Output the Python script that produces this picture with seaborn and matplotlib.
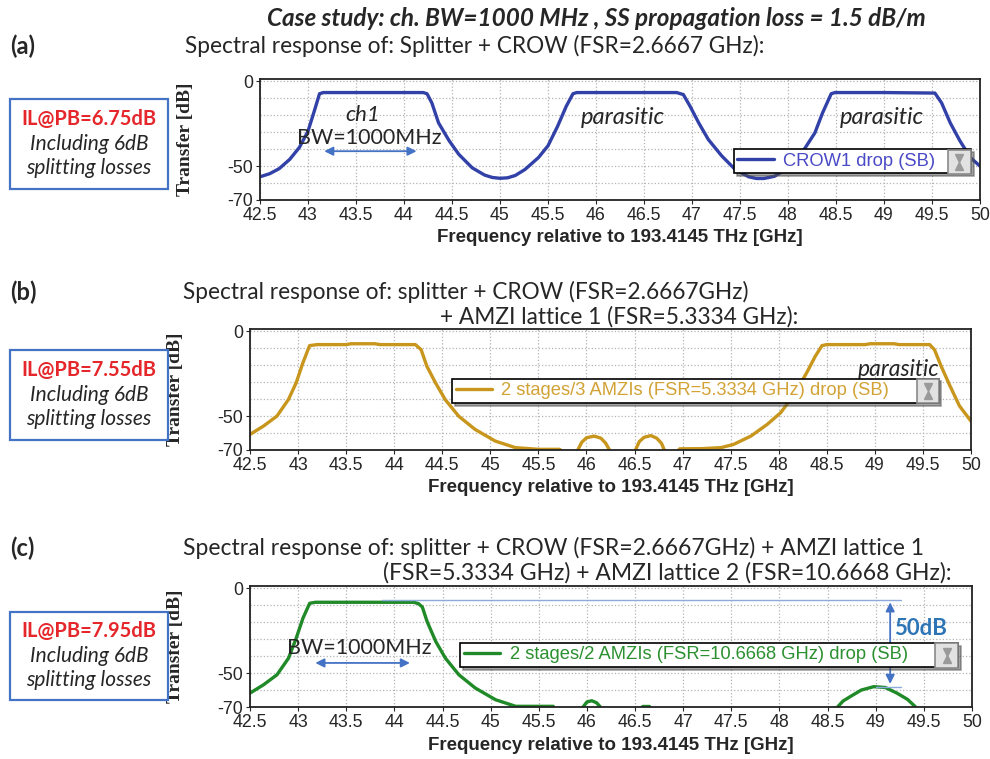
import pandas as pd
import matplotlib
matplotlib.use('Agg')
import matplotlib.pyplot as plt
import seaborn as sns
from matplotlib.patches import Rectangle
from matplotlib.ticker import FixedLocator

sns.set_style('ticks')
plt.rcParams['font.family'] = ['Liberation Sans', 'DejaVu Sans']
plt.rcParams['axes.unicode_minus'] = False

# ---- data ----
freq_a = [42.5, 42.6, 42.7, 42.81, 42.91, 43.0, 43.07, 43.12, 43.16, 43.6,
          44.2, 44.24, 44.29, 44.36, 44.47, 44.57, 44.71, 44.84, 44.92, 45.0,
          45.08, 45.16, 45.26, 45.4, 45.5, 45.6, 45.69, 45.76, 45.8, 46.3,
          46.84, 46.91, 46.98, 47.07, 47.17, 47.31, 47.45, 47.59, 47.67, 47.75,
          47.86, 48.03, 48.17, 48.28, 48.36, 48.45, 48.49, 49.0, 49.53, 49.6,
          49.69, 49.79, 49.9, 50.0]
trans_a = [-56.3, -54.5, -51.5, -46, -39, -29.4, -16.7, -7.3, -6.6, -6.6,
           -6.6, -7.3, -12.7, -24.5, -35, -43, -51, -55.3, -56.7, -57.2,
           -56.9, -55.5, -52, -45, -38, -26.5, -14.7, -7.3, -6.6, -6.6,
           -6.6, -7.8, -14.7, -24.5, -34.3, -44, -52, -56.3, -57.3, -57.3,
           -56, -50, -40, -30.4, -18.6, -7.3, -6.6, -6.6, -6.9, -12.7,
           -24.5, -35, -45, -50]

freq_b = [42.5, 42.64, 42.78, 42.9, 42.98, 43.05, 43.12, 43.2, 43.5, 43.55,
          43.8, 43.85, 44.22, 44.28, 44.34, 44.43, 44.53, 44.67, 44.84, 45.05,
          45.26, 45.5, 45.72, 45.78, 45.84, 45.91, 45.95, 46.0, 46.08, 46.15,
          46.2, 46.24, 46.3, 46.45, 46.51, 46.55, 46.6, 46.67, 46.73, 46.78,
          46.81, 46.88, 46.97, 47.2, 47.4, 47.53, 47.71, 47.88, 48.02, 48.16,
          48.29, 48.38, 48.45, 48.5, 48.9, 48.95, 49.2, 49.25, 49.57, 49.62,
          49.69, 49.78, 49.88, 50.0]
trans_b = [-60.8, -55.9, -50, -40.2, -30.4, -18.6, -8.4, -7.8, -7.8, -7.3,
           -7.3, -7.8, -7.8, -10.8, -20.6, -30.4, -40.2, -50, -57.8, -64.7,
           -68.6, -69.6, -69.6, -72, -75, -70, -65.5, -62.8, -61.8, -63,
           -66, -70, -76, -76, -70, -65, -62.5, -61.5, -63, -66,
           -70, -75, -69.3, -69.2, -68.6, -66.7, -61.8, -54.9, -48, -37.3,
           -24.5, -14.7, -8.4, -7.8, -7.8, -7.3, -7.3, -7.8, -7.8, -10.8,
           -20.6, -32, -44, -53]

freq_c = [42.5, 42.64, 42.78, 42.9, 42.98, 43.05, 43.12, 43.18, 44.2, 44.25,
          44.29, 44.34, 44.43, 44.53, 44.67, 44.84, 45.05, 45.26, 45.45, 45.65,
          45.7, 45.85, 45.96, 46.0, 46.05, 46.1, 46.14, 46.2, 46.5, 46.58,
          46.65, 46.7, 47.5, 48.3, 48.6, 48.66, 48.74, 48.85, 48.98, 49.1,
          49.22, 49.33, 49.42, 49.6, 50.0]
trans_c = [-61.8, -56.9, -51, -41.2, -29.4, -17.6, -8.8, -8.2, -8.2, -9.0,
           -11, -19.6, -31.4, -41.2, -51, -58.8, -65.7, -69.6, -69.6, -69.6,
           -75, -78, -70, -67, -66.3, -67.5, -70, -80, -75, -69.7,
           -69.7, -75, -85, -78, -70.2, -66.5, -63.7, -60, -58, -58.5,
           -61.8, -65.5, -70.3, -80, -85]

x_ticks = [42.5, 43, 43.5, 44, 44.5, 45, 45.5, 46, 46.5, 47, 47.5, 48, 48.5, 49, 49.5, 50]
x_tick_labels = ['42.5', '43', '43.5', '44', '44.5', '45', '45.5', '46', '46.5',
                 '47', '47.5', '48', '48.5', '49', '49.5', '50']
y_ticks = [0, -50, -70]
y_grid = [-10, -20, -30, -40, -60]

labels = ['CROW1 drop (SB)',
          '2 stages/3 AMZIs (FSR=5.3334 GHz) drop (SB)',
          '2 stages/2 AMZIs (FSR=10.6668 GHz) drop (SB)']
il_values = ['IL@PB=6.75dB', 'IL@PB=7.55dB', 'IL@PB=7.95dB']
passband_top = -6.6
parasitic_peak = -58.0

W, H = 990, 759
fig = plt.figure(figsize=(9.9, 7.59), dpi=100)


def fx(px):
    return px / W


def fy(py):
    return 1 - py / H


def add_panel(rect, freq, trans, color, tcolor, label, leg_box, icon_box):
    l, t, r, b = rect
    ax = fig.add_axes([fx(l), fy(b), (r - l) / W, (b - t) / H])
    df = pd.DataFrame({'freq': freq, 'trans': trans})
    sns.lineplot(data=df, x='freq', y='trans', ax=ax, color=color, lw=2.4,
                 label=label, estimator=None, sort=False)
    ax.set_xlim(42.5, 50)
    ax.set_ylim(-70, 1.4)
    ax.set_xticks(x_ticks)
    ax.set_xticklabels(x_tick_labels)
    ax.set_yticks(y_ticks)
    ax.yaxis.set_minor_locator(FixedLocator(y_grid))
    ax.grid(which='both', color='#b4b4b4', ls=':', lw=0.9)
    ax.set_axisbelow(True)
    ax.tick_params(which='major', labelsize=12.8, length=3, width=0.8, pad=2)
    ax.tick_params(which='minor', length=0)
    for s in ax.spines.values():
        s.set_color('#222222')
        s.set_linewidth(1.3)
    ax.set_xlabel('Frequency relative to 193.4145 THz [GHz]', fontweight='bold',
                  fontsize=13.5, labelpad=4)
    ax.set_ylabel('Transfer [dB]', family='Liberation Serif', fontweight='bold', fontsize=14)
    ax.yaxis.set_label_coords(-0.092, 0.5)
    leg = ax.legend(loc='center left', bbox_to_anchor=leg_box, mode='expand', frameon=True,
                    fancybox=False, shadow=True, edgecolor='black', framealpha=1,
                    fontsize=13.2, labelcolor=tcolor, handlelength=2.0,
                    borderpad=0.2, borderaxespad=0, handletextpad=0.5)
    leg.get_frame().set_linewidth(1.2)
    ix, iy, iw, ih = icon_box
    ax.add_patch(Rectangle((ix, iy), iw, ih, transform=ax.transAxes, facecolor='#e2e2e2',
                           edgecolor='#8a8a8a', lw=1.2, zorder=7, clip_on=False))
    ax.plot([ix + iw / 2], [iy + ih * 0.66], transform=ax.transAxes, marker='v', ms=6,
            color='#9a9a9a', zorder=8, clip_on=False)
    ax.plot([ix + iw / 2], [iy + ih * 0.34], transform=ax.transAxes, marker='^', ms=6,
            color='#9a9a9a', zorder=8, clip_on=False)
    return ax


ax_a = add_panel((260, 79, 980, 200), freq_a, trans_a, '#3241a8', '#4a4ac6', labels[0],
                 (0.658, 0.22, 0.33, 0.2), (0.955, 0.215, 0.032, 0.2))
ax_b = add_panel((250, 329, 971, 450), freq_b, trans_b, '#c8961c', '#d2a235', labels[1],
                 (0.28, 0.395, 0.675, 0.19), (0.925, 0.39, 0.03, 0.2))
ax_c = add_panel((250, 586, 972, 707), freq_c, trans_c, '#1f8a27', '#2b9030', labels[2],
                 (0.291, 0.33, 0.69, 0.2), (0.949, 0.325, 0.032, 0.2))

arrow_kw = dict(arrowstyle='<|-|>', color='#4472c4', lw=1.3, mutation_scale=13)
calibri = ['Lato', 'DejaVu Sans']

# panel (a) annotations
ax_a.text(43.57, -19.6, 'ch1', family=calibri, style='italic', fontsize=16, ha='center', va='center')
ax_a.text(43.64, -33.3, 'BW=1000MHz', family=calibri, fontsize=15.5, ha='center', va='center')
ax_a.annotate('', xy=(43.14, -41.2), xytext=(44.16, -41.2), arrowprops=arrow_kw)
ax_a.text(46.28, -21.3, 'parasitic', family=calibri, style='italic', fontsize=17, ha='center', va='center')
ax_a.text(48.98, -21.3, 'parasitic', family=calibri, style='italic', fontsize=17, ha='center', va='center')

# panel (b)
ax_b.text(49.25, -22.5, 'parasitic', family=calibri, style='italic', fontsize=16.5, ha='center', va='center')

# panel (c)
ax_c.text(43.64, -35.3, 'BW=1000MHz', family=calibri, fontsize=15.5, ha='center', va='center')
ax_c.annotate('', xy=(43.15, -44), xytext=(44.19, -44), arrowprops=arrow_kw)
ax_c.plot([43.87, 49.26], [passband_top, passband_top], color='#8ea9db', lw=1.0, zorder=4)
ax_c.plot([49.0, 49.26], [parasitic_peak, parasitic_peak], color='#8ea9db', lw=1.0, zorder=4)
ax_c.annotate('', xy=(49.15, passband_top), xytext=(49.15, parasitic_peak), arrowprops=arrow_kw)
ax_c.text(49.19, -23.5, '50dB', family=calibri, fontweight='bold', color='#2e75b6',
          fontsize=16, ha='left', va='center')

# figure-level texts
fig.text(fx(596), fy(18), 'Case study: ch. BW=1000 MHz , SS propagation loss = 1.5 dB/m',
         family=calibri, fontweight='bold', style='italic', fontsize=17.5, ha='center', va='center')
for lab, py in [('(a)', 46), ('(b)', 292), ('(c)', 548)]:
    fig.text(fx(10), fy(py), lab, family=calibri, fontweight='bold', fontsize=17, ha='left', va='center')

fig.text(fx(185), fy(46), 'Spectral response of: Splitter + CROW (FSR=2.6667 GHz):',
         family=calibri, fontsize=16.3, ha='left', va='center')
fig.text(fx(183), fy(292), 'Spectral response of: splitter + CROW (FSR=2.6667GHz)',
         family=calibri, fontsize=16.3, ha='left', va='center')
fig.text(fx(440), fy(317), '+ AMZI lattice 1 (FSR=5.3334 GHz):',
         family=calibri, fontsize=16.3, ha='left', va='center')
fig.text(fx(183), fy(548), 'Spectral response of: splitter + CROW (FSR=2.6667GHz) + AMZI lattice 1',
         family=calibri, fontsize=16.5, ha='left', va='center')
fig.text(fx(383), fy(573), '(FSR=5.3334 GHz) + AMZI lattice 2 (FSR=10.6668 GHz):',
         family=calibri, fontsize=16.5, ha='left', va='center')

# IL boxes
for il, (top, bot) in zip(il_values, [(99, 189), (350, 440), (612, 700)]):
    fig.patches.append(Rectangle((fx(10), fy(bot)), (168 - 10) / W, (bot - top) / H,
                                 transform=fig.transFigure, facecolor='white',
                                 edgecolor='#4472c4', lw=1.6))
    mid = (top + bot) / 2
    fig.text(fx(89), fy(mid - 25), il, family=calibri, fontweight='bold', color='#e5262b',
             fontsize=14.5, ha='center', va='center')
    fig.text(fx(89), fy(mid), 'Including 6dB', family=calibri, style='italic',
             fontsize=15, ha='center', va='center')
    fig.text(fx(89), fy(mid + 24), 'splitting losses', family=calibri, style='italic',
             fontsize=15, ha='center', va='center')

fig.savefig('out.png', dpi=100)
